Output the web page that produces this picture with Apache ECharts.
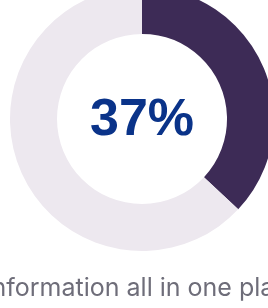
<!DOCTYPE html>
<html>
<head>
<meta charset="utf-8">
<script src="https://cdn.jsdelivr.net/npm/echarts@6/dist/echarts.min.js"></script>
<style>
  html, body { margin: 0; padding: 0; background: #fff; }
  #chart { width: 268px; height: 308px; }
</style>
</head>
<body>
<div id="chart"></div>
<script>
const sliceNames = ['Share', 'Rest']
const sliceValues = [37, 63]
const centerLabel = '37%'
const caption = 'Information all in one place'

const colors = ['#3d2b56', '#ede8ef']

const chart = echarts.init(document.getElementById('chart'))

chart.setOption({
  backgroundColor: '#ffffff',
  animation: false,
  title: [
    {
      text: centerLabel,
      left: 142,
      top: 95,
      padding: 0,
      textAlign: 'center',
      textStyle: {
        color: '#0a3389',
        fontSize: 52,
        fontWeight: 'bold',
        fontFamily: 'Liberation Sans'
      }
    },
    {
      text: caption,
      left: 144,
      top: 276,
      padding: 0,
      textAlign: 'center',
      textStyle: {
        color: '#6e6d79',
        fontSize: 25,
        fontWeight: 'normal',
        fontFamily: 'Inter'
      }
    }
  ],
  series: [{
    type: 'pie',
    center: [142, 119],
    radius: [85, 132],
    startAngle: 90,
    clockwise: true,
    silent: true,
    label: { show: false },
    labelLine: { show: false },
    data: sliceNames.map((n, i) => ({
      name: n,
      value: sliceValues[i],
      itemStyle: { color: colors[i] }
    }))
  }]
})
</script>
</body>
</html>
